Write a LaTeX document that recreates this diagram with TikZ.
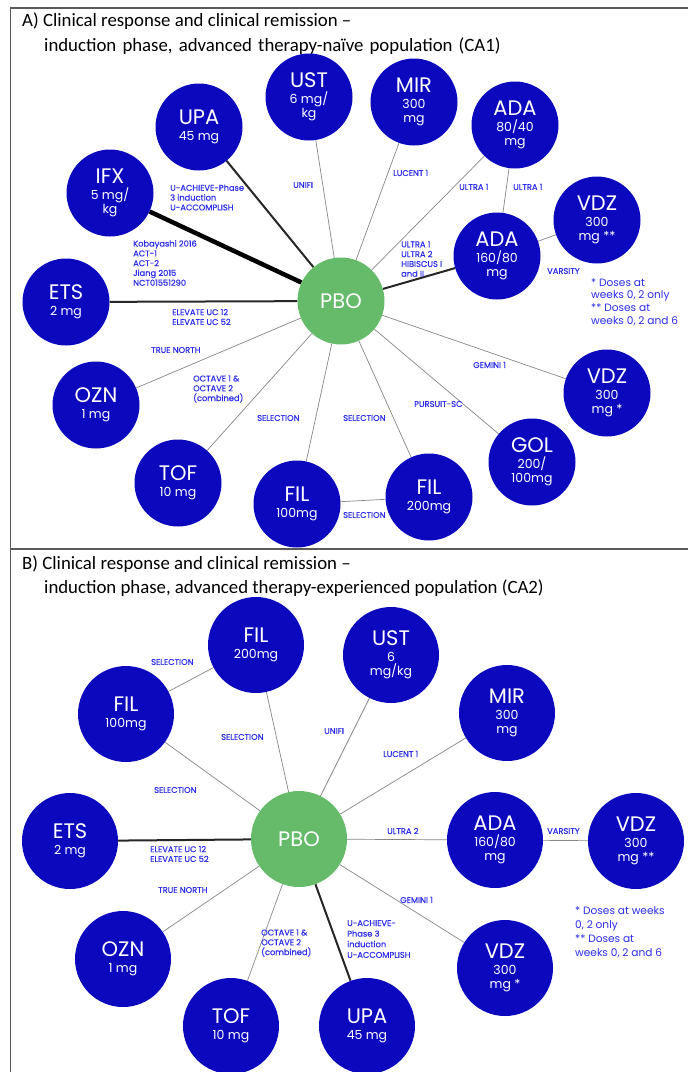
\documentclass[tikz,border=0pt]{standalone}
\usepackage{fontspec}
\setmainfont{Carlito}
\newfontfamily\geo{Poppins}
\newfontfamily\geolbl[RawFeature={embolden=0.5}]{Poppins}
\definecolor{drugblue}{RGB}{12,8,190}
\definecolor{pbogreen}{RGB}{102,187,106}
\definecolor{lblblue}{RGB}{45,45,235}
\definecolor{edgegray}{RGB}{135,135,135}
\definecolor{framegray}{RGB}{90,90,90}
\newcommand\drugname[1]{{\fontsize{21}{21}\selectfont #1}}
\pgfdeclarelayer{canvas}
\pgfdeclarelayer{links}
\pgfsetlayers{canvas,links,main}
\begin{document}
\begin{tikzpicture}[x=1pt,y=-1pt,
  drugA/.style={circle, fill=drugblue, text=white, minimum size=87pt, inner sep=0pt,
    align=center, font=\geo\fontsize{12.5}{14.5}\selectfont},
  drugB/.style={drugA, minimum size=96pt},
  pboA/.style={drugA, fill=pbogreen},
  pboB/.style={drugB, fill=pbogreen},
  lbl/.style={anchor=west, inner sep=0pt, align=left, text=lblblue,
    font=\geolbl\fontsize{8.3}{9.8}\selectfont},
  lblwide/.style={lbl, font=\geolbl\fontsize{8.3}{10.6}\selectfont},
  note/.style={anchor=west, inner sep=0pt, align=left, text=lblblue,
    font=\geo\fontsize{10.6}{12.7}\selectfont},
  noteB/.style={note, font=\geo\fontsize{10.6}{14}\selectfont},
  thinlink/.style={draw=edgegray, line width=0.7pt},
  boldlink/.style={draw=black!85, line width=2pt},
  heavylink/.style={draw=black, line width=4.5pt},
  paneltitle/.style={anchor=base west, inner sep=0pt, font=\fontsize{18.8}{23}\selectfont},
  panelrule/.style={draw=framegray, line width=1.3pt}]
\useasboundingbox (0,0) rectangle (688,1072);
\begin{pgfonlayer}{canvas}
\fill[white] (0,0) rectangle (688,1072);
\end{pgfonlayer}

% panel frames
\draw[panelrule] (688,8) -- (10.5,8) -- (10.5,1072);
\draw[panelrule] (10.5,549) -- (688,549);

% ---------- Panel A ----------
\node[paneltitle] (titleA1) at (22,26) {A) Clinical response and clinical remission –};
\node[paneltitle] (titleA2) at (44,51) {\spaceskip=6.2pt induction phase, advanced therapy-naïve population (CA1)};

\node[pboA]  (apbo)  at (341,301) {\drugname{PBO}};
\node[drugA] (aupa)  at (199,127) {\drugname{UPA}\\[1pt]45 mg};
\node[drugA] (aust)  at (309,97)  {\drugname{UST}\\[1pt]6 mg/\\kg};
\node[drugA] (aifx)  at (110,193) {\drugname{IFX}\\[1pt]5 mg/\\kg};
\node[drugA] (amir)  at (414,102) {\drugname{MIR}\\[1pt]300\\mg};
\node[drugA] (aadaa) at (515,125) {\drugname{ADA}\\[1pt]80/40\\mg};
\node[drugA] (avdzb) at (597,220) {\drugname{VDZ}\\[1pt]300\\mg **};
\node[drugA] (aadab) at (497,256) {\drugname{ADA}\\[1pt]160/80\\mg};
\node[drugA] (avdza) at (607,393) {\drugname{VDZ}\\[1pt]300\\mg *};
\node[drugA] (agol)  at (532,462) {\drugname{GOL}\\[1pt]200/\\100mg};
\node[drugA] (afilb) at (429,497) {\drugname{FIL}\\[1pt]200mg};
\node[drugA] (afila) at (297,504) {\drugname{FIL}\\[1pt]100mg};
\node[drugA] (atof)  at (178,483) {\drugname{TOF}\\[1pt]10 mg};
\node[drugA] (aozn)  at (96,405)  {\drugname{OZN}\\[1pt]1 mg};
\node[drugA] (aets)  at (66,302)  {\drugname{ETS}\\[1pt]2 mg};

\begin{pgfonlayer}{links}
\draw[boldlink]  (apbo) -- (aupa);
\draw[heavylink] (apbo) -- (aifx);
\draw[thinlink]  (apbo) -- (aust);
\draw[thinlink]  (apbo) -- (amir);
\draw[thinlink]  (apbo) -- (aadaa);
\draw[thinlink]  (aadaa) -- (aadab);
\draw[boldlink]  (apbo) -- (aadab);
\draw[thinlink]  (aadab) -- (avdzb);
\draw[boldlink]  (apbo) -- (aets);
\draw[thinlink]  (apbo) -- (aozn);
\draw[thinlink]  (apbo) -- (atof);
\draw[thinlink]  (apbo) -- (afila);
\draw[thinlink]  (apbo) -- (afilb);
\draw[thinlink]  (afila) -- (afilb);
\draw[thinlink]  (apbo) -- (agol);
\draw[thinlink]  (apbo) -- (avdza);
\end{pgfonlayer}

\node[lbl] (la1)  at (170,197.5) {U-ACHIEVE-Phase\\3 induction\\U-ACCOMPLISH};
\node[lbl] (la2)  at (293,185) {UNIFI};
\node[lbl] (la3)  at (133,263) {Kobayashi 2016\\ACT-1\\ACT-2\\Jiang 2015\\NCT01551290};
\node[lbl] (la4)  at (393,173) {LUCENT 1};
\node[lbl] (la5)  at (459,187) {ULTRA 1};
\node[lbl] (la6)  at (513,187) {ULTRA 1};
\node[lbl] (la7)  at (401,259) {ULTRA 1\\ULTRA 2\\HIBISCUS I\\and II};
\node[lbl] (la8)  at (547,271) {VARSITY};
\node[lbl] (la9)  at (172,317) {ELEVATE UC 12\\ELEVATE UC 52};
\node[lbl] (la10) at (151,350) {TRUE NORTH};
\node[lbl] (la11) at (193,389) {OCTAVE 1 \&\\OCTAVE 2\\(combined)};
\node[lbl] (la12) at (257,418) {SELECTION};
\node[lbl] (la13) at (343,418) {SELECTION};
\node[lbl] (la14) at (414,404) {PURSUIT-SC};
\node[lbl] (la15) at (473,365) {GEMINI 1};
\node[lbl] (la16) at (343,515) {SELECTION};
\node[note] (notea) at (591,302) {* Doses at\\weeks 0, 2 only\\** Doses at\\weeks 0, 2 and 6};

% ---------- Panel B ----------
\node[paneltitle] (titleB1) at (22,569) {B) Clinical response and clinical remission –};
\node[paneltitle] (titleB2) at (44,593) {induction phase, advanced therapy-experienced population (CA2)};

\node[pboB]  (bpbo)  at (299,839)  {\drugname{PBO}};
\node[drugB] (bfilb) at (256,645)  {\drugname{FIL}\\[1pt]200mg};
\node[drugB] (bfila) at (126,714)  {\drugname{FIL}\\[1pt]100mg};
\node[drugB] (bust)  at (391,655)  {\drugname{UST}\\[1pt]6\\mg/kg};
\node[drugB] (bmir)  at (507,713)  {\drugname{MIR}\\[1pt]300\\mg};
\node[drugB] (bada)  at (495,840)  {\drugname{ADA}\\[1pt]160/80\\mg};
\node[drugB] (bvdzb) at (636,841)  {\drugname{VDZ}\\[1pt]300\\mg **};
\node[drugB] (bvdza) at (505,968)  {\drugname{VDZ}\\[1pt]300\\mg *};
\node[drugB] (bupa)  at (367,1026) {\drugname{UPA}\\[1pt]45 mg};
\node[drugB] (btof)  at (231,1026) {\drugname{TOF}\\[1pt]10 mg};
\node[drugB] (bozn)  at (123,959)  {\drugname{OZN}\\[1pt]1 mg};
\node[drugB] (bets)  at (70,841)   {\drugname{ETS}\\[1pt]2 mg};

\begin{pgfonlayer}{links}
\draw[thinlink] (bpbo) -- (bfila);
\draw[thinlink] (bpbo) -- (bfilb);
\draw[thinlink] (bfila) -- (bfilb);
\draw[thinlink] (bpbo) -- (bust);
\draw[thinlink] (bpbo) -- (bmir);
\draw[thinlink] (bpbo) -- (bada);
\draw[thinlink] (bada) -- (bvdzb);
\draw[thinlink] (bpbo) -- (bvdza);
\draw[boldlink] (bpbo) -- (bupa);
\draw[thinlink] (bpbo) -- (btof);
\draw[thinlink] (bpbo) -- (bozn);
\draw[boldlink] (bpbo) -- (bets);
\end{pgfonlayer}

\node[lbl] (lb1)  at (151,662) {SELECTION};
\node[lbl] (lb2)  at (221,737) {SELECTION};
\node[lbl] (lb3)  at (324,731) {UNIFI};
\node[lbl] (lb4)  at (154,790) {SELECTION};
\node[lbl] (lb5)  at (383,754) {LUCENT 1};
\node[lbl] (lb6)  at (387,831) {ULTRA 2};
\node[lbl] (lb7)  at (547,831) {VARSITY};
\node[lbl] (lb8)  at (400,900) {GEMINI 1};
\node[lblwide] (lb9) at (347,939) {U-ACHIEVE-\\Phase 3\\induction\\U-ACCOMPLISH};
\node[lbl] (lb10) at (150,854) {ELEVATE UC 12\\ELEVATE UC 52};
\node[lbl] (lb11) at (158,890) {TRUE NORTH};
\node[lbl] (lb12) at (261,943) {OCTAVE 1 \&\\OCTAVE 2\\(combined)};
\node[noteB] (noteb) at (575,932) {* Doses at weeks\\0, 2 only\\** Doses at\\weeks 0, 2 and 6};
\end{tikzpicture}
\end{document}
